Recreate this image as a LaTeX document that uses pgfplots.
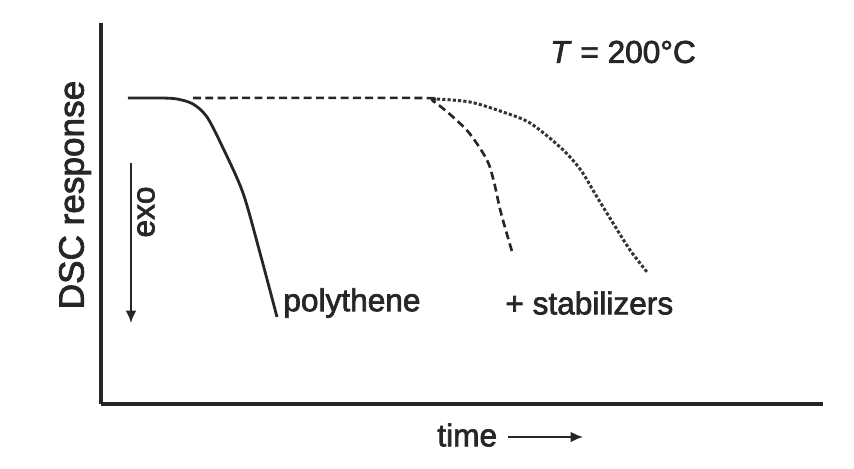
\documentclass[border=0pt]{standalone}
\usepackage{pgfplots}
\pgfplotsset{compat=1.18}
\usepackage{fontspec}
\setmainfont{Liberation Sans}
\newfontfamily\lbl{Liberation Sans}[FakeBold=2.2]
\usetikzlibrary{arrows.meta}
\begin{document}
\begin{tikzpicture}
\begin{axis}[
    scale only axis,
    width=14.44cm, height=7.62cm,
    xmin=0, xmax=722, ymin=0, ymax=381,
    axis x line=bottom, axis y line=left,
    axis line style={-, line width=1.8pt, black!85},
    xtick=\empty, ytick=\empty,
    clip=false,
]
% polythene
\addplot[smooth, line width=1.6pt, black!85] coordinates {
    (27,306) (60,306) (76,305) (92,300) (106,287) (122,256) (142,211) (159,151) (176,87)
};
% + stabilizers (dashed)
\addplot[smooth, line width=1.5pt, black!85, dash pattern=on 4.5pt off 2.5pt] coordinates {
    (92,306) (319,306) (332,303) (352,287) (369,270) (386,244) (393,222) (400,191) (412,149)
};
% + stabilizers (dotted)
\addplot[smooth, line width=1.7pt, black!80, dash pattern=on 1.8pt off 1.2pt] coordinates {
    (336,305) (369,302) (402,292) (429,281) (459,257) (479,235) (496,207) (512,181) (529,154) (546,132)
};
% exo arrow
\draw[-{Latex[length=7pt,width=6pt]}, line width=1.1pt, black!85] (axis cs:30,241) -- (axis cs:30,81);
\node[rotate=90, font=\lbl\fontsize{18}{20}\selectfont, black!85] at (axis cs:45,192) {exo};
\node[rotate=90, font=\lbl\fontsize{20}{22}\selectfont, black!85] at (axis cs:-26,209) {DSC response};
\node[anchor=west, font=\lbl\fontsize{18}{20}\selectfont, black!85, inner sep=0pt] at (axis cs:182,101) {polythene};
\node[anchor=west, font=\lbl\fontsize{18}{20}\selectfont, black!85, inner sep=0pt] at (axis cs:404,101) {+ stabilizers};
\node[anchor=west, font=\lbl\fontsize{18}{20}\selectfont, black!85, inner sep=0pt] at (axis cs:449,352) {\textit{T} = 200°C};
\node[anchor=west, font=\lbl\fontsize{18}{20}\selectfont, black!85, inner sep=0pt] at (axis cs:336,-31) {time};
\draw[-{Latex[length=7pt,width=6pt]}, line width=1.1pt, black!85] (axis cs:407,-33) -- (axis cs:482,-33);
\coordinate (bl) at (axis cs:-101,-64);
\coordinate (tr) at (axis cs:753,404);
\end{axis}
\pgfresetboundingbox
\useasboundingbox (bl) rectangle (tr);
\end{tikzpicture}
\end{document}
